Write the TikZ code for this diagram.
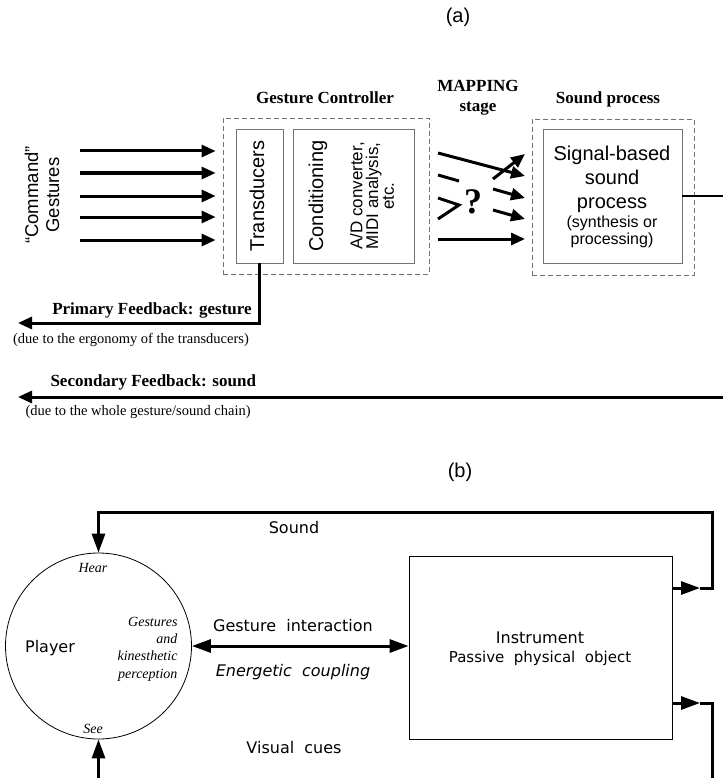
\documentclass[tikz,border=0pt]{standalone}
\usepackage{fontspec}
\setmainfont{Liberation Serif}
\newfontfamily\lsans{Liberation Sans}
\newfontfamily\dsans{DejaVu Sans}
\usetikzlibrary{arrows.meta}
\newcommand{\fsz}[2]{\fontsize{#1}{#2}\selectfont}
\begin{document}
\begin{tikzpicture}[x=1pt,y=-1pt,
    box/.style={draw=black!55, line width=0.9pt, rectangle, inner sep=0pt},
    dashbox/.style={draw=black!55, line width=0.8pt, dash pattern=on 5pt off 3pt, rectangle, inner sep=0pt},
    arr/.style={line width=3pt, -{Triangle[length=14pt,width=12pt]}},
    arrb/.style={line width=3pt, -{Triangle[length=19pt,width=13pt]}},
    wire/.style={line width=3pt},
    head/.style={font=\fsz{17}{20}\bfseries, align=center},
    bsans/.style={font=\dsans\fsz{16}{19}}]
  \useasboundingbox (0,0) rectangle (723,778);
  % (a) gesture controller chain
  \node (lbla) at (458,17) {\lsans\fsz{20}{24}(a)};
  \node[rotate=90, align=center, font=\lsans\fsz{18.5}{21}] (cmd) at (42,195) {“Command”\\Gestures};
  \node[head] (gchead) at (325,98) {Gesture Controller};
  \node[head] (maphead) at (478,98) {MAPPING\\stage};
  \node[head] (sphead) at (608,99) {Sound process};
  \node[dashbox, minimum width=206, minimum height=156] (gc) at (326,196) {};
  \node[box, minimum width=47, minimum height=134] (trans) at (259.5,196) {};
  \node[rotate=90, font=\lsans\fsz{20}{22}] (transtxt) at (257,196) {Transducers};
  \node[box, minimum width=121, minimum height=134] (cond) at (353.5,196) {};
  \node[rotate=90, font=\lsans\fsz{20}{22}] (condtxt) at (318,196) {Conditioning};
  \node[rotate=90, align=center, font=\lsans\fsz{17}{15.8}] (adtxt) at (372,196)
    {A/D converter,\\MIDI analysis,\\etc.};
  \node[dashbox, minimum width=162, minimum height=156] (sp) at (613,197) {};
  \node[box, minimum width=139, minimum height=134] (sig) at (612.5,196) {};
  \node[align=center, font=\lsans\fsz{20}{24}] (sigtxt) at (612,179) {Signal-based\\sound\\process};
  \node[align=center, font=\lsans\fsz{16}{17.5}] (sigsub) at (612,232) {(synthesis or\\processing)};
  \foreach \y [count=\i] in {151,173,196,217,240} {
    \coordinate (in\i) at (80,\y);
    \draw[arr, shorten >=7pt] (in\i) -- (in\i -| gc.west);
  }
  % mapping stage
  \coordinate (ma1) at (438,153); \coordinate (mb1) at (525,176);
  \coordinate (ma2) at (493,179); \coordinate (mb2) at (525,154);
  \coordinate (ma3) at (493,189); \coordinate (mb3) at (525,198);
  \coordinate (ma4) at (493,210); \coordinate (mb4) at (525,219);
  \coordinate (ma5) at (438,239); \coordinate (mb5) at (525,239);
  \foreach \i in {1,...,5} { \draw[arr] (ma\i) -- (mb\i); }
  \coordinate (da) at (438,175); \coordinate (db) at (459,181);
  \draw[wire] (da) -- (db);
  \coordinate (va) at (438,198); \coordinate (vb) at (459,205); \coordinate (vc) at (438,219);
  \draw[wire] (va) -- (vb) -- (vc);
  \node[font=\fsz{36}{36}\bfseries] (q) at (473,202) {?};
  \coordinate (sigout) at (723,196);
  \draw[line width=2.4pt] (sig.east) -- (sigout);
  % feedback
  \coordinate (pfb) at (18,323);
  \draw[arr] (trans.south) -- (trans.south |- pfb) -- (pfb);
  \node[font=\fsz{17}{20}\bfseries] (pfbtxt) at (152,310) {Primary Feedback: gesture};
  \node[font=\fsz{14.5}{17}] (pfbnote) at (131,340) {(due to the ergonomy of the transducers)};
  \coordinate (sfbin) at (723,397); \coordinate (sfb) at (18,397);
  \draw[arr] (sfbin) -- (sfb);
  \node[font=\fsz{17}{20}\bfseries, anchor=west] (sfbtxt) at (47,382) {Secondary Feedback: sound};
  \node[font=\fsz{14.5}{17}, anchor=west] (sfbnote) at (22,412) {(due to the whole gesture/sound chain)};
  % (b) player and instrument
  \node (lblb) at (460,472) {\lsans\fsz{20}{24}(b)};
  \node[circle, draw, line width=0.8pt, minimum size=186, inner sep=0pt] (player) at (98.5,646) {};
  \node[bsans] (playertxt) at (50,648) {Player};
  \node[font=\fsz{14}{17}\itshape] (hear) at (93,568) {Hear};
  \node[font=\fsz{14}{17}\itshape] (see) at (93,729) {See};
  \node[font=\fsz{14}{17.3}\itshape, align=right, anchor=east] (kin) at (181,649)
    {Gestures\\and\\kinesthetic\\perception};
  \node[draw, line width=0.8pt, minimum width=263, minimum height=183, inner sep=0pt] (inst) at (540.5,647.5) {};
  \node[bsans] (insttxt) at (540,638) {Instrument};
  \node[font=\dsans\fsz{15}{18}] (instsub) at (540,658) {Passive\ \ physical\ \ object};
  \draw[line width=3pt, {Triangle[length=19pt,width=13pt]}-{Triangle[length=19pt,width=13pt]}]
    (player.east) -- (inst.west |- player.east);
  \node[bsans] (gitxt) at (293,626) {Gesture\ \ interaction};
  \node[bsans, font=\dsans\fsz{16}{19}\itshape] (ectxt) at (293,672) {Energetic\ \ coupling};
  % sound loop
  \coordinate (sndtip) at (700,588); \coordinate (sndc1) at (712,588); \coordinate (sndc2) at (712,512);
  \draw[arrb] (inst.east |- sndtip) -- (sndtip);
  \draw[arrb] (sndtip) -- (sndc1) -- (sndc2) -| (player.north);
  \node[bsans] (sndtxt) at (294,528) {Sound};
  % visual cues
  \coordinate (vtip) at (700,703); \coordinate (vc1) at (712,703); \coordinate (vbot) at (712,778);
  \draw[arrb] (inst.east |- vtip) -- (vtip);
  \draw[wire] (vtip) -- (vc1) -- (vbot);
  \coordinate (vin) at (98.5,778);
  \draw[arrb] (vin) -- (player.south);
  \node[bsans] (vctxt) at (294,748) {Visual\ \ cues};
\end{tikzpicture}
\end{document}
